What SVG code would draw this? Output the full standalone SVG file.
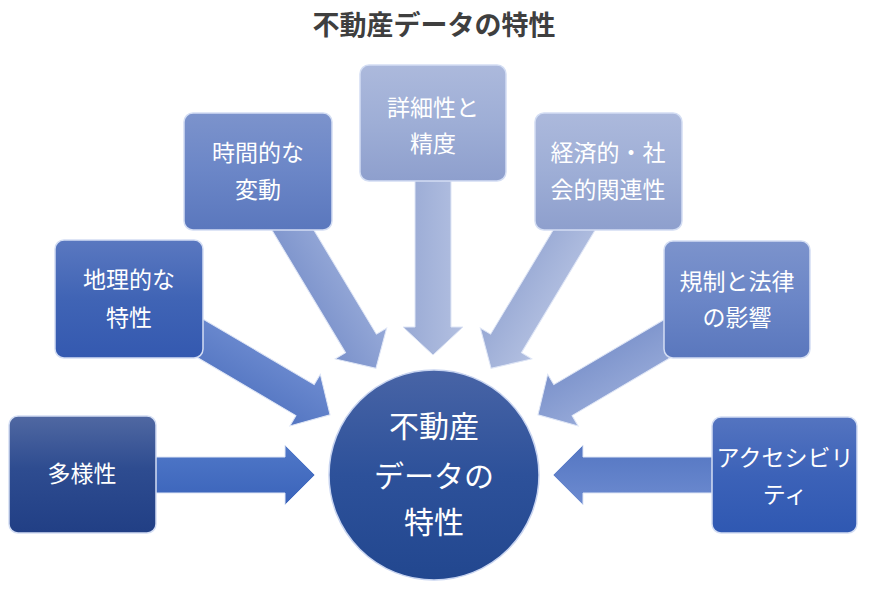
<svg xmlns="http://www.w3.org/2000/svg" width="871" height="589" viewBox="0 0 871 589">
<defs>
<style>
.t{font-family:"Noto Sans CJK JP","Noto Sans",sans-serif;fill:#ffffff;text-anchor:middle;font-size:23px}
.c{font-size:30px}
.title{font-family:"Noto Sans CJK JP","Noto Sans",sans-serif;fill:#3f3f3f;text-anchor:middle;font-size:27px;font-weight:bold}
.box{stroke:#d3ddf3;stroke-width:1.5}
.arr{stroke:#dfe6f6;stroke-width:1}
</style>
<linearGradient id="g1" x1="0" y1="0" x2="0" y2="1"><stop offset="0" stop-color="#5068a2"/><stop offset="0.45" stop-color="#2e4c90"/><stop offset="1" stop-color="#213f85"/></linearGradient>
<linearGradient id="g2" x1="0" y1="0" x2="0" y2="1"><stop offset="0" stop-color="#5a78c0"/><stop offset="0.5" stop-color="#4064b5"/><stop offset="1" stop-color="#3459b0"/></linearGradient>
<linearGradient id="g3" x1="0" y1="0" x2="0" y2="1"><stop offset="0" stop-color="#7c93cc"/><stop offset="0.5" stop-color="#6b86c7"/><stop offset="1" stop-color="#5a77bd"/></linearGradient>
<linearGradient id="g4" x1="0" y1="0" x2="0" y2="1"><stop offset="0" stop-color="#acb9dc"/><stop offset="0.5" stop-color="#9eaed6"/><stop offset="1" stop-color="#8e9fcd"/></linearGradient>
<linearGradient id="g7" x1="0" y1="0" x2="0" y2="1"><stop offset="0" stop-color="#5474c0"/><stop offset="0.5" stop-color="#3c62b8"/><stop offset="1" stop-color="#2f58b2"/></linearGradient>
<linearGradient id="gc" x1="0" y1="0" x2="0" y2="1"><stop offset="0" stop-color="#4864a6"/><stop offset="0.5" stop-color="#2d519a"/><stop offset="1" stop-color="#22478f"/></linearGradient>
<linearGradient id="a1" x1="0" y1="0" x2="0" y2="1"><stop offset="0" stop-color="#5078c8"/><stop offset="1" stop-color="#3a63ba"/></linearGradient>
<linearGradient id="a2" x1="0" y1="0" x2="0" y2="1"><stop offset="0" stop-color="#6d8bd0"/><stop offset="1" stop-color="#5476c2"/></linearGradient>
<linearGradient id="a3" x1="0" y1="0" x2="0" y2="1"><stop offset="0" stop-color="#96a9d8"/><stop offset="1" stop-color="#7b92cb"/></linearGradient>
<linearGradient id="a4" x1="0" y1="0" x2="0" y2="1"><stop offset="0" stop-color="#b3c0e1"/><stop offset="1" stop-color="#98a9d4"/></linearGradient>
</defs>
<rect width="871" height="589" fill="#ffffff"/>
<text class="title" x="434" y="35">不動産データの特性</text>
<g id="connectors">
<path class="arr" fill="url(#a1)" transform="translate(150,475)" d="M0,-18 L135,-18 L135,-30 L165,0 L135,30 L135,18 L0,18 Z"/>
<path class="arr" fill="url(#a2)" transform="translate(718,475) rotate(180)" d="M0,-18 L135,-18 L135,-30 L165,0 L135,30 L135,18 L0,18 Z"/>
<path class="arr" fill="url(#a4)" transform="translate(433,175) rotate(90)" d="M0,-18 L152,-18 L152,-30 L180,0 L152,30 L152,18 L0,18 Z"/>
<path class="arr" fill="url(#a3)" transform="translate(276,202) rotate(59)" d="M0,-18 L165,-18 L165,-30 L194,0 L165,30 L165,18 L0,18 Z"/>
<path class="arr" fill="url(#a4)" transform="translate(591,202) rotate(121)" d="M0,-18 L165,-18 L165,-30 L194,0 L165,30 L165,18 L0,18 Z"/>
<path class="arr" fill="url(#a2)" transform="translate(181,327) rotate(30.5)" d="M0,-18 L144,-18 L144,-30 L173,0 L144,30 L144,18 L0,18 Z"/>
<path class="arr" fill="url(#a3)" transform="translate(687,327) rotate(149.5)" d="M0,-18 L144,-18 L144,-30 L173,0 L144,30 L144,18 L0,18 Z"/>
</g>
<g id="n1"><rect class="box" x="9" y="416" width="147" height="117" rx="9" fill="url(#g1)"/><text class="t" x="82" y="482">多様性</text></g>
<g id="n2"><rect class="box" x="55" y="240" width="148" height="118" rx="9" fill="url(#g2)"/><text class="t" x="129" y="288">地理的な</text><text class="t" x="129" y="326">特性</text></g>
<g id="n3"><rect class="box" x="184" y="113" width="148" height="117" rx="9" fill="url(#g3)"/><text class="t" x="258" y="161">時間的な</text><text class="t" x="258" y="198">変動</text></g>
<g id="n4"><rect class="box" x="360" y="65" width="146" height="116" rx="9" fill="url(#g4)"/><text class="t" x="433" y="116">詳細性と</text><text class="t" x="433" y="152">精度</text></g>
<g id="n5"><rect class="box" x="535" y="113" width="147" height="117" rx="9" fill="url(#g4)"/><text class="t" x="608" y="161">経済的・社</text><text class="t" x="608" y="198">会的関連性</text></g>
<g id="n6"><rect class="box" x="664" y="241" width="146" height="117" rx="9" fill="url(#g3)"/><text class="t" x="737" y="290">規制と法律</text><text class="t" x="737" y="326">の影響</text></g>
<g id="n7"><rect class="box" x="712" y="417" width="145" height="116" rx="9" fill="url(#g7)"/><text class="t" x="785" y="466">アクセシビリ</text><text class="t" x="785" y="503">ティ</text></g>
<g id="center"><circle cx="434" cy="475" r="105" fill="url(#gc)" stroke="#c8d4f0" stroke-width="1.5"/><text class="t c" x="434" y="437">不動産</text><text class="t c" x="434" y="487">データの</text><text class="t c" x="434" y="533">特性</text></g>
</svg>
